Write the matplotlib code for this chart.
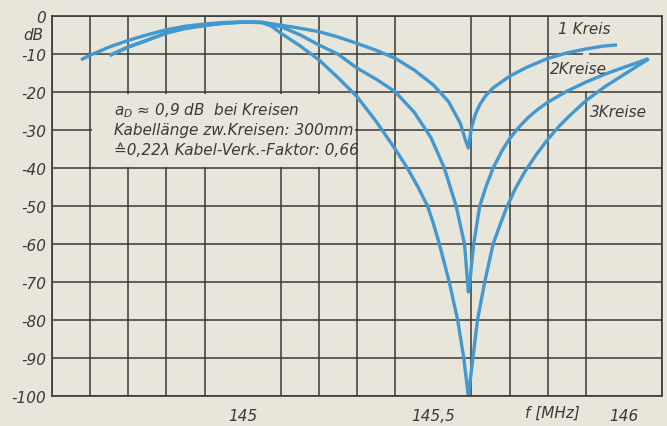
import matplotlib.pyplot as plt
from matplotlib.patches import Rectangle

# frequency (MHz) and attenuation (dB)
f_1kreis = [144.576, 144.60, 144.651, 144.70, 144.747, 144.80, 144.848, 144.90, 144.95,
            145.00, 145.05, 145.10, 145.15, 145.20, 145.25, 145.30, 145.35, 145.40,
            145.45, 145.50, 145.54, 145.571, 145.584, 145.592, 145.60, 145.61, 145.622,
            145.638, 145.657, 145.699, 145.745, 145.799, 145.85, 145.898, 145.946, 145.982]
db_1kreis = [-11.5, -10.3, -8.1, -6.4, -5.0, -3.6, -2.7, -2.1, -1.7,
             -1.5, -1.6, -2.4, -3.2, -4.1, -5.5, -7.2, -9.0, -11.1,
             -14.2, -18.1, -22.5, -28.2, -32.5, -34.7, -29.5, -26.0, -23.3,
             -20.9, -18.9, -15.9, -13.5, -11.2, -9.7, -8.7, -7.9, -7.6]

f_2kreise = [144.651, 144.70, 144.747, 144.80, 144.848, 144.90, 144.95, 145.00, 145.05,
             145.10, 145.15, 145.20, 145.25, 145.30, 145.35, 145.40, 145.45, 145.494,
             145.529, 145.56, 145.582, 145.592, 145.596, 145.606, 145.622, 145.638,
             145.657, 145.68, 145.70, 145.725, 145.75, 145.775, 145.80, 145.85,
             145.90, 145.95, 146.00, 146.065]
db_2kreise = [-10.3, -8.1, -6.4, -4.4, -3.2, -2.4, -1.9, -1.6, -1.7,
              -2.8, -4.9, -7.6, -10.0, -13.7, -16.6, -19.9, -25.3, -32.0,
              -40.0, -50.0, -60.0, -72.6, -70.0, -60.0, -50.0, -45.0,
              -40.0, -35.5, -32.3, -29.2, -26.6, -24.5, -22.7, -19.8,
              -17.4, -15.3, -13.5, -11.2]

f_3kreise = [144.651, 144.70, 144.747, 144.80, 144.848, 144.90, 144.95, 145.00, 145.05,
             145.075, 145.10, 145.15, 145.20, 145.25, 145.30, 145.35, 145.40, 145.432,
             145.46, 145.485, 145.50, 145.516, 145.542, 145.564, 145.58, 145.592, 145.604,
             145.616, 145.635, 145.657, 145.675, 145.692, 145.715, 145.74, 145.77,
             145.80, 145.83, 145.86, 145.90, 145.95, 146.00, 146.03, 146.065]
db_3kreise = [-10.4, -8.2, -6.5, -4.5, -3.3, -2.5, -1.9, -1.6, -1.7,
              -2.6, -4.5, -7.8, -11.5, -16.2, -21.2, -27.7, -35.0, -40.0,
              -45.0, -50.0, -54.5, -60.0, -70.0, -80.0, -90.0, -100.0, -90.0,
              -80.0, -70.0, -60.0, -55.0, -50.5, -45.5, -41.0, -36.5,
              -32.5, -29.0, -26.0, -22.3, -18.6, -15.4, -13.5, -11.3]

y_ticks = [0, -10, -20, -30, -40, -50, -60, -70, -80, -90, -100]
y_labels = ['0', '-10', '-20', '-30', '-40', '-50', '-60', '-70', '-80', '-90', '-100']
x_ticks = [145.0, 145.5, 146.0]
x_labels = ['145', '145,5', '146']

paper = '#e8e5db'
ink = '#3a3a36'
blue = '#4298cf'
fam = ['Liberation Sans Narrow', 'DejaVu Sans']

fig = plt.figure(figsize=(6.67, 4.27), dpi=100, facecolor=paper)
ax = fig.add_axes([0.078, 0.0703, 0.9145, 0.8897])
ax.set_facecolor(paper)

ax.set_xlim(144.5, 146.1)
ax.set_ylim(-100, 0)

# grid every 0.1 MHz / 10 dB
ax.set_xticks([144.5 + 0.1 * i for i in range(17)], minor=True)
ax.set_yticks(y_ticks)
ax.set_xticks(x_ticks)
ax.grid(True, which='minor', axis='x', color=ink, lw=1.1)
ax.grid(True, which='major', axis='y', color=ink, lw=1.1)
ax.set_axisbelow(True)
ax.set_yticklabels(y_labels)
ax.set_xticklabels(x_labels)
ax.tick_params(which='both', length=0, colors=ink, labelsize=11)
ax.tick_params(axis='x', pad=9)
ax.tick_params(axis='y', pad=4)
for lab in ax.get_xticklabels() + ax.get_yticklabels():
    lab.set_family(fam)
    lab.set_style('italic')
for s in ax.spines.values():
    s.set_color(ink)
    s.set_linewidth(1.2)

# blank cells behind the texts
ax.add_patch(Rectangle((144.606, -39.6), 0.688, 19.2, color=paper, zorder=1.5, lw=0))
ax.add_patch(Rectangle((145.892, -19.6), 0.016, 19.6, color=paper, zorder=1.5, lw=0))
ax.add_patch(Rectangle((145.992, -29.6), 0.016, 9.2, color=paper, zorder=1.5, lw=0))

for f, db in [(f_1kreis, db_1kreis), (f_2kreise, db_2kreise), (f_3kreise, db_3kreise)]:
    ax.plot(f, db, color=blue, lw=2.4, solid_capstyle='butt', solid_joinstyle='round', zorder=2)

tkw = dict(family=fam, style='italic', color=ink, fontsize=11)
ax.text(145.896, -3.2, '1 Kreis', ha='center', va='center', **tkw)
ax.text(145.881, -13.7, '2Kreise', ha='center', va='center', **tkw)
ax.text(145.986, -25.2, '3Kreise', ha='center', va='center', **tkw)

ax.text(144.662, -24.6, r'$a_D$' + ' \u2248 0,9 dB  bei Kreisen', ha='left', va='center', **tkw)
ax.text(144.662, -29.9, 'Kabellänge zw.Kreisen: 300mm', ha='left', va='center', **tkw)
ax.text(144.662, -35.2, '\u22590,22\u03bb Kabel-Verk.-Faktor: 0,66', ha='left', va='center', **tkw)

fig.text(0.05, 0.916, 'dB', ha='center', va='center', **tkw)
fig.text(0.828, 0.033, 'f [MHz]', ha='center', va='center', **tkw)

fig.savefig('out.png', dpi=100, facecolor=paper)
